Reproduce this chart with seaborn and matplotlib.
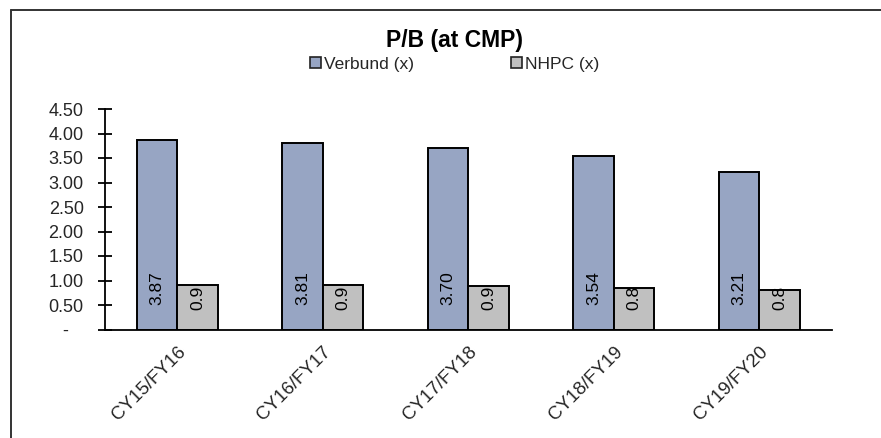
import matplotlib
matplotlib.use("Agg")
import matplotlib.pyplot as plt
from matplotlib.lines import Line2D
from matplotlib.patches import Patch
from matplotlib.ticker import FixedLocator, NullFormatter
import pandas as pd
import seaborn as sns

# Data
periods = ["CY15/FY16", "CY16/FY17", "CY17/FY18", "CY18/FY19", "CY19/FY20"]
verbund_pb = [3.87, 3.81, 3.70, 3.54, 3.21]
nhpc_pb = [0.91, 0.91, 0.88, 0.84, 0.81]
series_names = ["Verbund (x)", "NHPC (x)"]
y_ticks = [0.0, 0.5, 1.0, 1.5, 2.0, 2.5, 3.0, 3.5, 4.0, 4.5]
y_tick_labels = ["-   ", "0.50", "1.00", "1.50", "2.00", "2.50", "3.00", "3.50", "4.00", "4.50"]
title = "P/B (at CMP)"

colors = ["#97A5C3", "#C0C0C0"]

df = pd.DataFrame({
    "period": periods * 2,
    "value": verbund_pb + nhpc_pb,
    "series": [series_names[0]] * len(periods) + [series_names[1]] * len(periods),
})

sns.set_theme(style="white")
plt.rcParams["font.family"] = ["Liberation Sans", "DejaVu Sans"]

W, H = 881, 438
fig = plt.figure(figsize=(W / 100, H / 100), dpi=100)
ax = fig.add_axes([104.5 / W, 1 - 329.5 / H, (832 - 104.5) / W, (329.5 - 109) / H])

sns.barplot(
    data=df, x="period", y="value", hue="series", order=periods,
    hue_order=series_names, palette=colors, width=0.56, dodge=True,
    edgecolor="black", linewidth=1.4, saturation=1, legend=False, ax=ax,
)

# Value labels, rotated, sitting at the base of each bar
fmts = ["{:.2f}", "{:.1f}"]
offsets = [41, 32]
for container, vals, fmt, off in zip(ax.containers, [verbund_pb, nhpc_pb], fmts, offsets):
    for bar, v in zip(container.patches, vals):
        ax.annotate(fmt.format(v), xy=(bar.get_x() + bar.get_width() / 2, 0),
                    xytext=(0, off * 0.72), textcoords="offset points",
                    rotation=90, ha="center", va="center", fontsize=12.5,
                    color="black", annotation_clip=False)

ax.set_xlim(-0.5, len(periods) - 0.5)
ax.set_ylim(0, 4.5)
ax.set_xlabel("")
ax.set_ylabel("")

ax.set_yticks(y_ticks)
ax.set_yticklabels(y_tick_labels, fontsize=13)
ax.set_xticks(range(len(periods)))
ax.set_xticklabels(periods, rotation=45, ha="right", va="top",
                   rotation_mode="anchor", fontsize=13.5)
ax.tick_params(axis="x", which="major", length=0, pad=10)
ax.xaxis.set_minor_locator(FixedLocator([i - 0.5 for i in range(len(periods) + 1)]))
ax.xaxis.set_minor_formatter(NullFormatter())
ax.tick_params(axis="x", which="minor", direction="inout", length=10, width=1.3, color="black")
ax.tick_params(axis="y", which="major", direction="inout", length=10, width=1.3,
               color="black", pad=10, left=True)

for side in ["top", "right"]:
    ax.spines[side].set_visible(False)
for side in ["left", "bottom"]:
    ax.spines[side].set_visible(True)
    ax.spines[side].set_color("black")
    ax.spines[side].set_linewidth(1.3)
ax.grid(False)
ax.set_facecolor("white")

fig.text(455 / W, 1 - 41 / H, title, ha="center", va="center",
         fontsize=16.5, fontweight="bold", color="black")

handles = [Patch(facecolor=c, edgecolor="#222222", linewidth=1.2) for c in colors]
fig.legend(handles, series_names, loc="center", bbox_to_anchor=(455 / W, 1 - 64 / H),
           ncol=2, frameon=False, fontsize=12.5, handlelength=0.6, handleheight=0.6,
           handletextpad=0.2, columnspacing=5.6, borderaxespad=0)

# Chart-area border (top and left edges)
fig.add_artist(Line2D([11 / W, 1.05], [1 - 10 / H, 1 - 10 / H], transform=fig.transFigure,
                      color="#333333", linewidth=1.4))
fig.add_artist(Line2D([11 / W, 11 / W], [-0.05, 1 - 10 / H], transform=fig.transFigure,
                      color="#333333", linewidth=1.4))

fig.savefig("out.png", dpi=100, facecolor="white")
